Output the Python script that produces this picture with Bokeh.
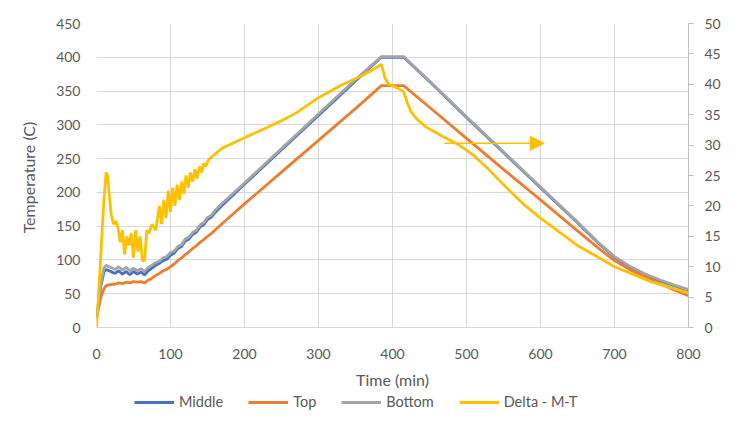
from bokeh.plotting import figure
from bokeh.layouts import column
from bokeh.models import (LinearAxis, Range1d, Legend, LegendItem, Arrow, NormalHead,
                          FixedTicker)
from bokeh.embed import file_html
from bokeh.resources import INLINE

# ---------------- data ----------------
t_temp = [0, 3, 6, 10, 13, 17, 21, 25, 30, 35,
          40, 45, 50, 55, 60, 65, 70, 75, 80, 85,
          90, 95, 100, 105, 110, 115, 120, 125, 130, 135,
          140, 145, 150, 155, 160, 170, 200, 250, 300, 350,
          385, 415, 450, 500, 550, 600, 650, 680, 700, 720,
          740, 760, 780, 800]
middle = [15, 40, 62, 82, 86, 84, 82, 80, 84, 79,
          83, 78, 83, 79, 82, 78, 84, 88, 92, 95,
          99, 101, 107, 110, 117, 120, 128, 131, 138, 141,
          149, 152, 160, 163, 170, 181, 212, 263, 314, 365,
          400, 400, 364, 311, 259, 207, 155, 123, 104, 90,
          79, 70, 62, 55]
top = [12, 30, 45, 57, 62, 63, 64, 64, 66, 65,
       67, 66, 68, 67, 68, 66, 70, 73, 77, 80,
       84, 86, 90, 94, 99, 103, 108, 112, 117, 121,
       126, 130, 135, 139, 144, 154, 183, 230, 277, 324,
       358, 358, 326, 280, 234, 189, 143, 116, 99, 86,
       76, 66, 56, 47]
bottom = [15, 42, 66, 88, 92, 90, 88, 86, 90, 85,
          89, 84, 88, 84, 87, 83, 89, 92, 96, 98,
          103, 105, 111, 113, 120, 123, 131, 134, 141, 144,
          152, 155, 163, 166, 173, 184, 214, 265, 316, 367,
          401, 401, 365, 312, 260, 208, 156, 124, 105, 91,
          80, 71, 63, 56]

t_delta = [0, 5, 10, 13, 15, 17, 20, 23, 26, 29,
           32, 35, 38, 41, 44, 47, 50, 53, 56, 59,
           62, 65, 68, 71, 75, 80, 85, 88, 91, 94,
           97, 100, 103, 106, 109, 112, 115, 118, 121, 124,
           127, 130, 133, 136, 139, 142, 145, 148, 151, 155,
           160, 170, 200, 250, 270, 300, 330, 360, 375, 385,
           390, 395, 405, 415, 420, 425, 432, 445, 468, 490,
           510, 530, 550, 575, 600, 650, 700, 750, 800]
delta = [0, 10, 21, 25.5, 25, 22, 18.5, 17, 17.5, 16.5,
         14, 16, 12, 15, 13.5, 15.5, 11.5, 16, 12.5, 15,
         11, 11, 16, 15.5, 17, 16, 20, 17, 21, 18,
         22.5, 19, 23, 20, 23.5, 21, 24, 22, 25, 23,
         25.5, 24, 26, 24.5, 26.5, 25.5, 27, 26.5, 27.5, 28,
         28.5, 29.5, 31.2, 34, 35.3, 37.8, 39.8, 41.5, 42.5, 43.3,
         41, 40, 39.5, 38.8, 37, 35.5, 34.4, 33, 31.4, 30,
         28.3, 26, 23.5, 20.5, 18, 13.5, 10, 7.5, 5.7]

x_ticks = [0, 100, 200, 300, 400, 500, 600, 700, 800]
y_ticks = [0, 50, 100, 150, 200, 250, 300, 350, 400, 450]
y2_ticks = [0, 5, 10, 15, 20, 25, 30, 35, 40, 45, 50]

arrow_x = [470, 605]
arrow_y = 30.3

series_names = ["Middle", "Top", "Bottom", "Delta - M-T"]
colors = ["#4472C4", "#ED7D31", "#A5A5A5", "#FFC000"]

FONT = "Lato"
TXT = "#595959"
GRID = "#D9D9D9"
W = 727
LW = 2.8

# ---------------- main figure ----------------
p = figure(width=W, height=391, output_backend="svg", toolbar_location=None,
           x_range=Range1d(0, 800), y_range=Range1d(0, 450),
           min_border_left=96, min_border_right=39, min_border_top=23,
           min_border_bottom=61)
p.extra_y_ranges = {"delta": Range1d(0, 50)}
p.outline_line_color = None

xa = p.xaxis[0]
xa.ticker = FixedTicker(ticks=x_ticks)
xa.axis_label = "Time (min)"
ya = p.yaxis[0]
ya.ticker = FixedTicker(ticks=y_ticks)
ya.axis_label = "Temperature  (C)"

ra = LinearAxis(y_range_name="delta", ticker=FixedTicker(ticks=y2_ticks))
p.add_layout(ra, "right")

for ax in (xa, ya, ra):
    ax.major_label_text_font = FONT
    ax.major_label_text_font_size = "14px"
    ax.major_label_text_color = TXT
    ax.axis_label_text_font = FONT
    ax.axis_label_text_font_size = "16px"
    ax.axis_label_text_font_style = "normal"
    ax.axis_label_text_color = TXT
    ax.minor_tick_line_color = None
    ax.major_tick_in = 0

xa.axis_line_color = GRID
xa.major_tick_line_color = None
xa.major_tick_out = 0
xa.major_label_standoff = 21
xa.axis_label_standoff = 8

ya.axis_line_color = None
ya.major_tick_line_color = None
ya.major_tick_out = 0
ya.major_label_standoff = 16
ya.axis_label_standoff = 15

ra.axis_line_color = "#BFBFBF"
ra.major_tick_line_color = "#BFBFBF"
ra.major_tick_out = 5
ra.major_label_standoff = 11

p.xgrid.ticker = FixedTicker(ticks=x_ticks)
p.ygrid.ticker = FixedTicker(ticks=y_ticks)
p.xgrid.grid_line_color = GRID
p.ygrid.grid_line_color = GRID

p.line(t_temp, middle, line_color=colors[0], line_width=LW)
p.line(t_temp, top, line_color=colors[1], line_width=LW)
p.line(t_temp, bottom, line_color=colors[2], line_width=LW)
p.line(t_delta, delta, line_color=colors[3], line_width=LW, y_range_name="delta")

p.add_layout(Arrow(x_start=arrow_x[0], y_start=arrow_y, x_end=arrow_x[1], y_end=arrow_y,
                   y_range_name="delta", line_color=colors[3], line_width=1.5,
                   end=NormalHead(size=14, fill_color=colors[3], line_color=colors[3])))

# ---------------- legend strip ----------------
# the same series are drawn here, outside the visible range, only to feed the legend
leg = figure(width=W, height=20, output_backend="svg", toolbar_location=None,
             x_range=Range1d(0, 800), y_range=Range1d(-20, -10), min_border=0,
             x_axis_location=None, y_axis_location=None)
leg.grid.visible = False
leg.outline_line_color = None
proxies = [leg.line(t_temp, middle, line_color=colors[0], line_width=LW),
           leg.line(t_temp, top, line_color=colors[1], line_width=LW),
           leg.line(t_temp, bottom, line_color=colors[2], line_width=LW),
           leg.line(t_delta, delta, line_color=colors[3], line_width=LW)]
legend = Legend(items=[LegendItem(label=n, renderers=[r]) for n, r in zip(series_names, proxies)],
                orientation="horizontal", location=(38, 1),
                label_text_font=FONT, label_text_font_size="14.5px",
                label_text_color=TXT, glyph_width=40, glyph_height=12,
                label_standoff=5, spacing=25, padding=0, margin=0,
                label_height=17,
                border_line_color=None, background_fill_alpha=0)
leg.add_layout(legend, "center")

layout = column(p, leg, spacing=0)
open("out.html", "w").write(file_html(layout, INLINE))
